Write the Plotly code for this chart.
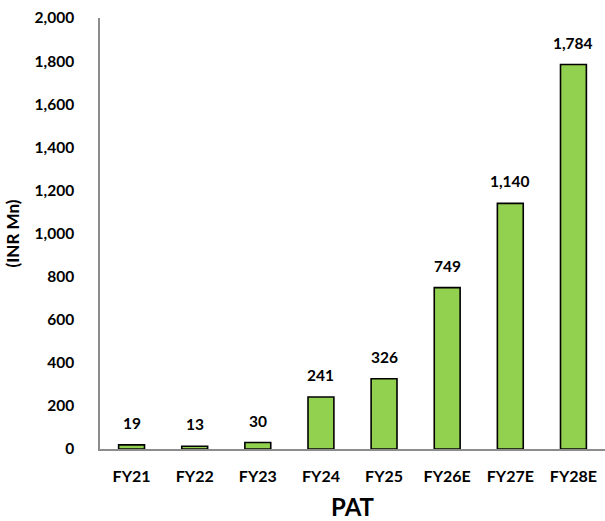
import plotly.graph_objects as go

years = ["FY21", "FY22", "FY23", "FY24", "FY25", "FY26E", "FY27E", "FY28E"]
pat = [19, 13, 30, 241, 326, 749, 1140, 1784]

FONT = "Lato"

fig = go.Figure(
    go.Bar(
        x=years,
        y=pat,
        width=0.41,
        marker=dict(color="#92D050", line=dict(color="#000000", width=1.6)),
        hoverinfo="skip",
    )
)

for yr, v in zip(years, pat):
    fig.add_annotation(
        x=yr, y=v, text=f"{v:,}", showarrow=False, yshift=22,
        font=dict(family=FONT, size=15.5, color="#000000", weight="bold"),
    )

fig.update_layout(
    width=605,
    height=521,
    margin=dict(l=100, r=0, t=18, b=72),
    paper_bgcolor="white",
    plot_bgcolor="white",
    showlegend=False,
)

fig.update_xaxes(
    showline=True, linecolor="#8c8c8c", linewidth=1.5,
    showgrid=False, ticks="", ticklabelstandoff=12,
    tickfont=dict(family=FONT, size=16, color="#000000", weight="bold"),
    title=dict(text="PAT", standoff=15,
               font=dict(family=FONT, size=24, color="#000000", weight="bold")),
    range=[-0.5, 7.5],
)

fig.update_yaxes(
    range=[0, 2000], dtick=200, tickformat=",",
    showline=True, linecolor="#8c8c8c", linewidth=1.5,
    showgrid=False, zeroline=False, ticks="", ticklabelstandoff=21,
    tickfont=dict(family=FONT, size=15.5, color="#000000", weight="bold"),
    title=dict(text="(INR Mn)", standoff=11,
               font=dict(family=FONT, size=17, color="#000000", weight="bold")),
)

fig.write_html("out.html")
